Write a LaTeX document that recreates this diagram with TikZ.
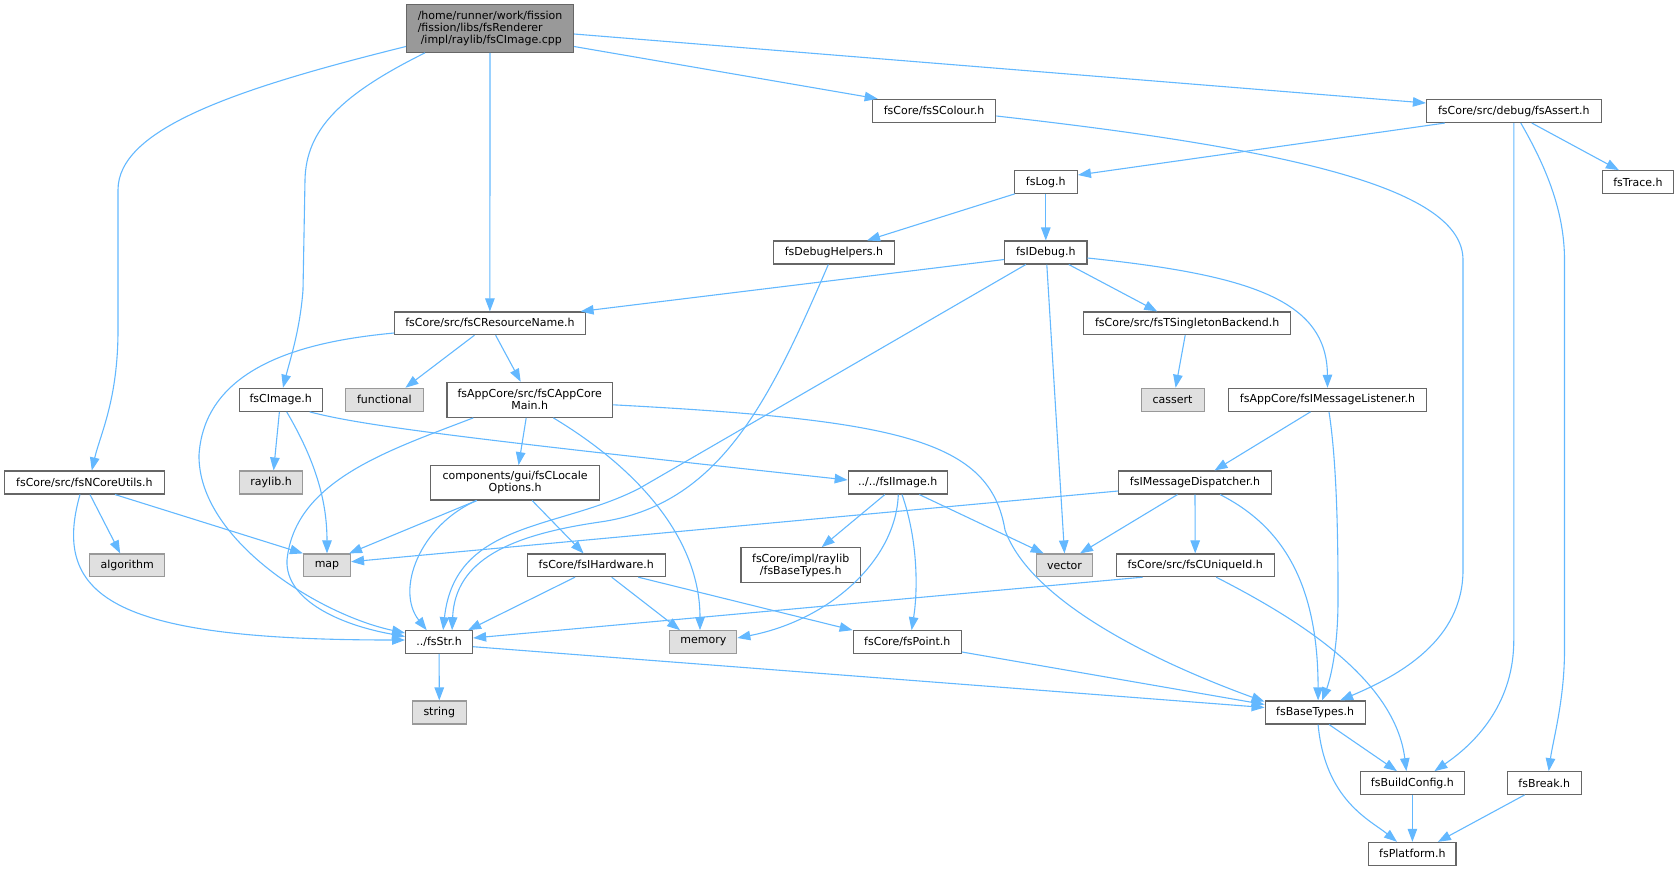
\documentclass[tikz,border=0pt]{standalone}
\usepackage{fontspec}
\setmainfont{DejaVu Sans}
\usetikzlibrary{arrows.meta}
\definecolor{edgec}{HTML}{63B8FF}
\definecolor{bord}{HTML}{666666}
\definecolor{extb}{HTML}{999999}
\definecolor{extf}{HTML}{E0E0E0}
\definecolor{mainf}{HTML}{999999}
\tikzset{
  nd/.style={draw=bord, fill=white, line width=1.1pt, inner sep=0pt, align=center, text=black,
    font=\fontsize{11}{12}\selectfont},
  ext/.style={nd, draw=extb, fill=extf},
  mainnd/.style={nd, fill=mainf, draw=bord},
  e/.style={draw=edgec, line width=1.1pt, -{Triangle[length=13pt,width=9.5pt]}}
}
\begin{document}
\begin{tikzpicture}[x=1pt,y=-1pt]
\useasboundingbox (0,0) rectangle (1679,871);
% nodes
\node[mainnd, minimum width=167pt, minimum height=47.6pt, align=left] (main) at (490,28.5)
  {/home/runner/work/fission\\/fission/libs/fsRenderer\\\hspace{3pt}/impl/raylib/fsCImage.cpp};
\node[nd, minimum width=123.6pt, minimum height=23.4pt] (scol) at (934,111) {fsCore/fsSColour.h};
\node[nd, minimum width=174.7pt, minimum height=23pt] (assert) at (1513.8,111) {fsCore/src/debug/fsAssert.h};
\node[nd, minimum width=63.2pt, minimum height=22.6pt] (log) at (1045.8,182) {fsLog.h};
\node[nd, minimum width=71.3pt, minimum height=22.6pt] (trace) at (1637.9,182) {fsTrace.h};
\node[nd, minimum width=121pt, minimum height=23pt] (dbgh) at (834,252.5) {fsDebugHelpers.h};
\node[nd, minimum width=82.3pt, minimum height=23pt] (idebug) at (1045.8,252.5) {fsIDebug.h};
\node[nd, minimum width=190.5pt, minimum height=22.7pt] (resname) at (489.9,323.3) {fsCore/src/fsCResourceName.h};
\node[nd, minimum width=206.7pt, minimum height=22.7pt] (single) at (1187.2,323.3) {fsCore/src/fsTSingletonBackend.h};
\node[nd, minimum width=83pt, minimum height=23pt] (cimage) at (280.7,399.8) {fsCImage.h};
\node[ext, minimum width=77.7pt, minimum height=23pt] (functional) at (384.4,399.8) {functional};
\node[nd, minimum width=165.4pt, minimum height=35pt] (appmain) at (529.7,399.8) {fsAppCore/src/fsCAppCore\\Main.h};
\node[ext, minimum width=63pt, minimum height=23pt] (cassert) at (1172.6,399.8) {cassert};
\node[nd, minimum width=198pt, minimum height=23pt] (msglist) at (1327.5,399.8) {fsAppCore/fsIMessageListener.h};
\node[nd, minimum width=159.6pt, minimum height=23pt] (ncore) at (84.4,482.5) {fsCore/src/fsNCoreUtils.h};
\node[ext, minimum width=63pt, minimum height=23pt] (raylib) at (271.1,482.5) {raylib.h};
\node[nd, minimum width=168.5pt, minimum height=34.3pt] (locale) at (515.1,482.8) {components/gui/fsCLocale\\Options.h};
\node[nd, minimum width=99pt, minimum height=23pt] (iimage) at (897.7,482.5) {../../fsIImage.h};
\node[nd, minimum width=152.5pt, minimum height=23pt] (disp) at (1195,482.5) {fsIMessageDispatcher.h};
\node[ext, minimum width=75.3pt, minimum height=22.7pt] (algo) at (127.2,565.3) {algorithm};
\node[ext, minimum width=47pt, minimum height=22.7pt] (map) at (327,565.3) {map};
\node[nd, minimum width=137.8pt, minimum height=22.7pt] (ihw) at (596.3,565.3) {fsCore/fsIHardware.h};
\node[nd, minimum width=119.4pt, minimum height=35pt] (implbase) at (800.7,565.2) {fsCore/impl/raylib\\/fsBaseTypes.h};
\node[ext, minimum width=56.3pt, minimum height=22.7pt] (vector) at (1064.5,565.3) {vector};
\node[nd, minimum width=158pt, minimum height=22.7pt] (uniq) at (1195.2,565.3) {fsCore/src/fsCUniqueId.h};
\node[nd, minimum width=67pt, minimum height=22.6pt] (nstr) at (439.1,642) {../fsStr.h};
\node[ext, minimum width=67pt, minimum height=22.6pt] (memory) at (703.3,642) {memory};
\node[nd, minimum width=108.3pt, minimum height=22.6pt] (point) at (907.3,642) {fsCore/fsPoint.h};
\node[ext, minimum width=53.6pt, minimum height=23pt] (nstring) at (439.3,712.5) {string};
\node[nd, minimum width=100pt, minimum height=23pt] (base) at (1315.1,712.5) {fsBaseTypes.h};
\node[nd, minimum width=104.2pt, minimum height=22.6pt] (build) at (1412.4,783) {fsBuildConfig.h};
\node[nd, minimum width=74pt, minimum height=22.6pt] (brk) at (1544.3,783) {fsBreak.h};
\node[nd, minimum width=87.2pt, minimum height=22.7pt] (plat) at (1412.4,853.7) {fsPlatform.h};
% edges from main
\draw[e] ([yshift=-18pt]main.west) .. controls (230,90) and (118,130) .. (118,190) -- (118,330) .. controls (118,400) and (100,435) .. ([xshift=7.4pt]ncore.north);
\draw[e] ([xshift=-65pt]main.south) .. controls (340,95) and (306,130) .. (305,180) -- (303,290) .. controls (300,330) and (290,360) .. ([xshift=2.3pt]cimage.north);
\draw[e] (main.south) -- (resname.north);
\draw[e] ([yshift=-18pt]main.east) -- ([xshift=6pt]scol.north west);
\draw[e] ([yshift=-5.5pt]main.east) -- ([yshift=8pt]assert.west);
% scolour
\draw[e] ([yshift=-5pt]scol.east) .. controls (1300,150) and (1463,190) .. (1463,260) -- (1463,570) .. controls (1463,640) and (1400,675) .. ([xshift=25pt]base.north);
% assert
\draw[e] ([xshift=-69pt]assert.south) -- ([yshift=7pt]log.east);
\draw[e] ([xshift=18pt]assert.south) -- ([xshift=-19pt]trace.north);
\draw[e] (assert.south) -- (1513.8,640) .. controls (1513.8,700) and (1480,740) .. ([xshift=22pt]build.north);
\draw[e] ([xshift=7pt]assert.south) .. controls (1545,165) and (1564.5,210) .. (1564.5,260) -- (1564.5,650) .. controls (1564.5,700) and (1553,740) .. ([xshift=4.4pt]brk.north);
% log
\draw[e] ([xshift=-31pt]log.south) -- ([xshift=33pt]dbgh.north);
\draw[e] (log.south) -- (idebug.north);
% debug helpers
\draw[e] ([xshift=-5.7pt]dbgh.south) .. controls (770,400) and (720,505) .. (600,522) .. controls (510,535) and (455,560) .. ([xshift=13pt]nstr.north);
% idebug
\draw[e] ([yshift=-7pt]idebug.west) -- ([xshift=90.7pt]resname.north);
\draw[e] ([xshift=-20pt]idebug.south) -- (640,488) .. controls (560,530) and (455,520) .. ([xshift=4pt]nstr.north);
\draw[e] ([xshift=1pt]idebug.south) -- (vector.north);
\draw[e] ([xshift=23pt]idebug.south) -- ([xshift=-30pt]single.north);
\draw[e] ([yshift=-5.5pt]idebug.east) .. controls (1250,275) and (1327,300) .. (msglist.north);
% singleton
\draw[e] ([xshift=-2pt]single.south) -- ([xshift=3pt]cassert.north);
% resource name
\draw[e] ([yshift=-9.7pt]resname.west) .. controls (320,340) and (205,360) .. (199,455) .. controls (198,540) and (320,615) .. ([yshift=9pt]nstr.west);
\draw[e] ([xshift=-15.4pt]resname.south) -- ([xshift=21pt]functional.north);
\draw[e] ([xshift=5.7pt]resname.south) -- ([xshift=-9pt]appmain.north);
% cimage
\draw[e] ([xshift=-1.3pt]cimage.south) -- ([xshift=2.5pt]raylib.north);
\draw[e] ([xshift=6pt]cimage.south) .. controls (315,460) and (327,500) .. (map.north);
\draw[e] ([xshift=29pt]cimage.south) .. controls (360,425) and (450,437) .. ([yshift=2.5pt]iimage.west);
% app main
\draw[e] ([xshift=-3.5pt]appmain.south) -- ([xshift=3.5pt]locale.north);
\draw[e] ([xshift=-56.4pt]appmain.south) .. controls (390,450) and (295,480) .. (287,560) .. controls (285,600) and (340,625) .. ([yshift=5.5pt]nstr.west);
\draw[e] ([xshift=23.6pt]appmain.south) .. controls (640,470) and (700,540) .. ([xshift=-3.3pt]memory.north);
\draw[e] ([yshift=-5pt]appmain.east) .. controls (900,420) and (990,440) .. (1005,530) .. controls (1030,600) and (1150,660) .. ([yshift=10.8pt]base.west);
% message listener
\draw[e] ([xshift=-17pt]msglist.south) -- ([xshift=19.5pt]disp.north);
\draw[e] ([xshift=1.5pt]msglist.south) .. controls (1338,470) and (1338,560) .. (1338,600) .. controls (1338,650) and (1330,680) .. ([xshift=7pt]base.north);
% ncore utils
\draw[e] ([xshift=-4.4pt]ncore.south) .. controls (50,600) and (120,640) .. ([yshift=2pt]nstr.west);
\draw[e] ([xshift=5.6pt]ncore.south) -- ([xshift=-7pt]algo.north);
\draw[e] ([xshift=30.6pt]ncore.south) -- (map.north west);
% locale options
\draw[e] ([xshift=-38.4pt]locale.south) -- ([xshift=-2pt]map.north east);
\draw[e] ([xshift=-38.4pt]locale.south) .. controls (420,525) and (395,590) .. ([xshift=-12.4pt]nstr.north);
\draw[e] ([xshift=17pt]locale.south) -- ([xshift=-12.7pt]ihw.north);
% iimage
\draw[e] ([xshift=-12.8pt]iimage.south) -- ([xshift=21pt]implbase.north);
\draw[e] ([xshift=0.6pt]iimage.south) .. controls (896,560) and (830,620) .. ([yshift=4pt]memory.east);
\draw[e] ([xshift=4.3pt]iimage.south) .. controls (918,540) and (918,590) .. ([xshift=4.3pt]point.north);
\draw[e] ([xshift=21.6pt]iimage.south) -- ([xshift=-20.8pt]vector.north);
% dispatcher
\draw[e] ([yshift=-8.5pt]disp.west) -- ([yshift=3.6pt]map.east);
\draw[e] ([xshift=-17.5pt]disp.south) -- ([xshift=15.5pt]vector.north);
\draw[e] (disp.south) -- (uniq.north);
\draw[e] ([xshift=25pt]disp.south) .. controls (1280,525) and (1318,580) .. ([xshift=3pt]base.north);
% unique id
\draw[e] ([xshift=-52.7pt]uniq.south) -- ([yshift=4pt]nstr.east);
\draw[e] ([xshift=21pt]uniq.south) .. controls (1300,620) and (1395,680) .. ([xshift=-6pt]build.north);
% hardware
\draw[e] ([xshift=-21.3pt]ihw.south) -- ([xshift=29pt]nstr.north);
\draw[e] ([xshift=15.4pt]ihw.south) -- ([xshift=-23.3pt]memory.north);
\draw[e] ([xshift=42pt]ihw.south) -- (point.north west);
% str
\draw[e] (nstr.south) -- (nstring.north);
\draw[e] ([yshift=-4.7pt]nstr.east) -- ([yshift=5pt]base.west);
% point
\draw[e] ([yshift=-10pt]point.east) -- ([yshift=8pt]base.west);
% base types
\draw[e] ([xshift=14pt]base.south) -- ([xshift=-15.4pt]build.north);
\draw[e] ([xshift=3pt]base.south) .. controls (1325,800) and (1370,820) .. ([xshift=-15.4pt]plat.north);
\draw[e] (build.south) -- (plat.north);
\draw[e] ([xshift=-19.6pt]brk.south) -- ([xshift=25.5pt]plat.north);
\end{tikzpicture}
\end{document}
